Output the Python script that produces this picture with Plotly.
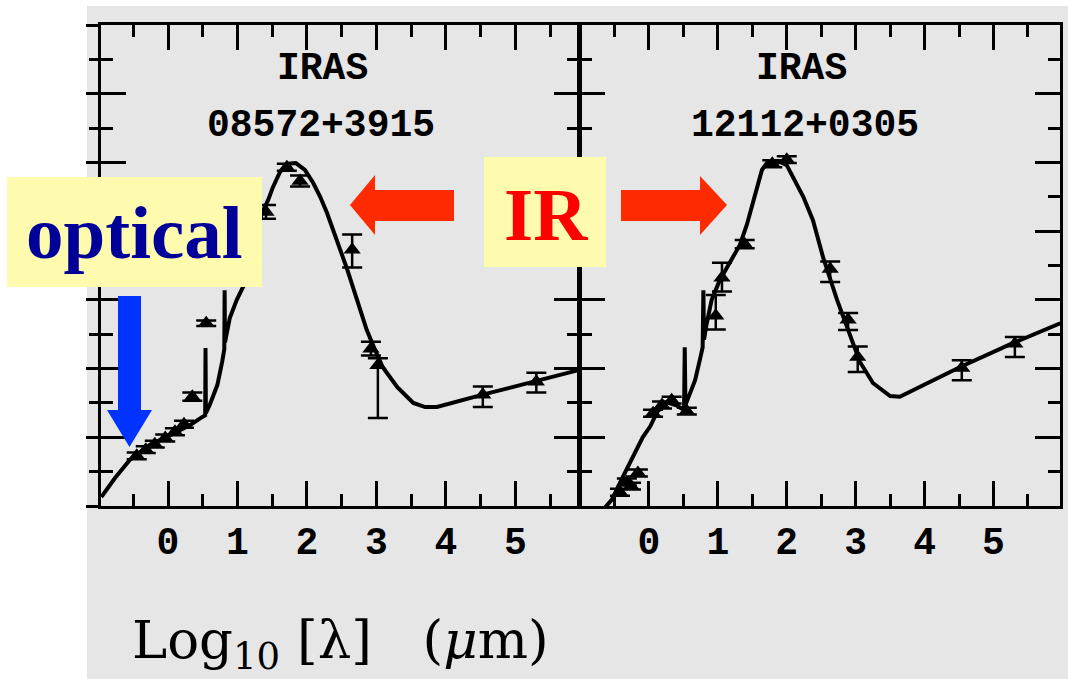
import plotly.graph_objects as go

W, H = 1068, 679

# ---- IRAS 08572+3915 : model SED and photometry (log10 lambda [um], log flux) ----
A_MODEL_X = [-0.96, -0.76, -0.55, -0.26, 0.03, 0.32, 0.50, 0.535, 0.54, 0.545, 0.60, 0.71,
             0.78, 0.81, 0.815, 0.82, 0.89, 0.99, 1.11, 1.22, 1.35, 1.44, 1.51, 1.61, 1.73,
             1.84, 1.97, 2.09, 2.19, 2.29, 2.43, 2.58, 2.72, 2.86, 2.98, 3.09, 3.30, 3.53,
             3.70, 3.87, 4.53, 5.25, 5.92]
A_MODEL_Y = [0.13, 0.41, 0.67, 0.89, 1.03, 1.18, 1.30, 1.32, 2.30, 1.35, 1.47, 1.76,
             2.10, 2.28, 3.14, 2.38, 2.74, 3.00, 3.25, 3.73, 4.26, 4.45, 4.64, 4.86, 4.98,
             4.99, 4.89, 4.70, 4.50, 4.26, 3.87, 3.44, 3.00, 2.56, 2.27, 2.02, 1.73, 1.50,
             1.44, 1.44, 1.62, 1.81, 1.98]
A_PHOT_X = [-0.45, -0.32, -0.19, -0.04, 0.10, 0.23, 0.35, 0.55, 1.41, 1.71, 1.90, 2.65,
            2.92, 3.02, 4.53, 5.30]
A_PHOT_Y = [0.73, 0.82, 0.90, 0.99, 1.08, 1.19, 1.59, 2.66, 4.28, 4.93, 4.73, 3.73,
            2.29, 2.05, 1.62, 1.81]
A_ERR_UP = [0.05, 0.05, 0.05, 0.05, 0.05, 0.05, 0.06, 0.04, 0.10, 0.05, 0.08, 0.22,
            0.10, 0.10, 0.12, 0.13]
A_ERR_DN = [0.05, 0.05, 0.05, 0.05, 0.05, 0.05, 0.06, 0.04, 0.10, 0.05, 0.08, 0.26,
            0.10, 0.77, 0.18, 0.16]

# ---- IRAS 12112+0305 ----
B_MODEL_X = [-0.67, -0.54, -0.38, -0.23, -0.09, 0.02, 0.12, 0.26, 0.41, 0.49, 0.51, 0.52,
             0.53, 0.60, 0.67, 0.74, 0.78, 0.79, 0.80, 0.83, 0.91, 1.03, 1.18, 1.32, 1.42,
             1.50, 1.57, 1.64, 1.71, 1.90, 2.00, 2.09, 2.24, 2.38, 2.53, 2.73, 2.87, 3.06,
             3.25, 3.50, 3.64, 3.98, 4.51, 5.28, 5.97]
B_MODEL_Y = [-0.06, 0.09, 0.42, 0.71, 1.00, 1.16, 1.37, 1.51, 1.46, 1.41, 1.43, 2.31,
             1.47, 1.65, 1.83, 2.13, 2.31, 3.14, 2.42, 2.61, 3.00, 3.29, 3.54, 3.80, 4.09,
             4.38, 4.67, 4.89, 4.99, 5.01, 4.96, 4.79, 4.50, 4.16, 3.61, 3.00, 2.61, 2.10,
             1.79, 1.60, 1.59, 1.76, 2.02, 2.37, 2.66]
B_PHOT_X = [-0.42, -0.32, -0.26, -0.16, 0.06, 0.19, 0.33, 0.55, 0.97, 1.06, 1.39, 1.79,
            2.00, 2.63, 2.89, 3.03, 4.54, 5.31]
B_PHOT_Y = [0.20, 0.35, 0.29, 0.48, 1.35, 1.47, 1.54, 1.38, 2.77, 3.32, 3.81, 4.98,
            5.04, 3.45, 2.71, 2.17, 2.01, 2.36]
B_ERR_UP = [0.05, 0.05, 0.05, 0.05, 0.05, 0.05, 0.05, 0.05, 0.30, 0.22, 0.06, 0.05,
            0.05, 0.11, 0.10, 0.15, 0.11, 0.10]
B_ERR_DN = [0.05, 0.05, 0.05, 0.05, 0.05, 0.05, 0.05, 0.05, 0.20, 0.20, 0.06, 0.05,
            0.05, 0.19, 0.15, 0.22, 0.18, 0.19]

X_TICKS = [0, 1, 2, 3, 4, 5]
X_TICK_TEXT = ["0", "1", "2", "3", "4", "5"]
TITLES = [("IRAS", "08572+3915"), ("IRAS", "12112+0305")]
X_LABEL = "Log<sub>10</sub>&nbsp;[λ]&nbsp;&nbsp; (<i>μ</i>m)"


def px(x):
    return x / W


def py(y):
    return 1 - y / H


MONO = dict(family="Liberation Mono", size=38, color="black", weight="bold")
Y_DOM = [py(506), py(25)]

fig = go.Figure()

for xa, ya, mx, my, dx, dy, eu, ed in [
    ("x", "y", A_MODEL_X, A_MODEL_Y, A_PHOT_X, A_PHOT_Y, A_ERR_UP, A_ERR_DN),
    ("x2", "y2", B_MODEL_X, B_MODEL_Y, B_PHOT_X, B_PHOT_Y, B_ERR_UP, B_ERR_DN),
]:
    fig.add_trace(go.Scatter(x=mx, y=my, mode="lines", xaxis=xa, yaxis=ya,
                             line=dict(color="black", width=4), showlegend=False,
                             hoverinfo="skip"))
    fig.add_trace(go.Scatter(x=dx, y=dy, mode="markers", xaxis=xa, yaxis=ya,
                             marker=dict(symbol="triangle-up", size=15, color="black"),
                             error_y=dict(type="data", symmetric=False, array=eu,
                                          arrayminus=ed, color="black", thickness=2.5,
                                          width=10),
                             showlegend=False, hoverinfo="skip"))

# carrier for the outward tick marks on the left frame
fig.add_trace(go.Scatter(x=[None], y=[None], xaxis="x", yaxis="y3", showlegend=False,
                         hoverinfo="skip"))

common_x = dict(showline=True, linecolor="black", linewidth=2.5, mirror="ticks",
                ticks="inside", ticklen=25, tickwidth=2.5, tickcolor="black",
                tickmode="array", tickvals=X_TICKS, ticktext=X_TICK_TEXT,
                tickfont=MONO, ticklabelstandoff=0, showgrid=False, zeroline=False,
                minor=dict(ticks="inside", ticklen=12, tickwidth=2.5, tickcolor="black",
                           dtick=0.5, tick0=0, showgrid=False))
common_y = dict(showline=True, linecolor="black", linewidth=2.5, mirror="ticks",
                ticks="inside", ticklen=25, tickwidth=2.5, tickcolor="black",
                dtick=1, tick0=0, showticklabels=False, showgrid=False, zeroline=False,
                range=[0, 7], domain=Y_DOM,
                minor=dict(ticks="inside", ticklen=12, tickwidth=2.5, tickcolor="black",
                           dtick=0.5, tick0=0, showgrid=False))

fig.update_layout(
    width=W, height=H, margin=dict(l=0, r=0, t=0, b=0),
    paper_bgcolor="white", plot_bgcolor="rgba(0,0,0,0)",
    xaxis=dict(common_x, domain=[px(101), px(579)], range=[-0.964, 5.914], anchor="y"),
    yaxis=dict(common_y, anchor="x"),
    xaxis2=dict(common_x, domain=[px(580), px(1060)], range=[-1.0, 5.965], anchor="y2"),
    yaxis2=dict(common_y, anchor="x2"),
    yaxis3=dict(overlaying="y", side="left", anchor="x", range=[0, 7], showline=False,
                ticks="outside", ticklen=14, tickwidth=2.5, tickcolor="black", dtick=1,
                tick0=0, showticklabels=False, showgrid=False, zeroline=False,
                minor=dict(ticks="outside", ticklen=11, tickwidth=2.5, tickcolor="black",
                           dtick=0.5, tick0=0, showgrid=False)),
)

shapes = [
    # grey page behind the plots
    dict(type="rect", xref="paper", yref="paper", x0=px(87), x1=1, y0=0, y1=py(6),
         fillcolor="#E6E6E6", line=dict(width=0), layer="below"),
    # callout boxes
    dict(type="rect", xref="paper", yref="paper", x0=px(7), x1=px(262), y0=py(287),
         y1=py(177), fillcolor="#FFFBAE", line=dict(width=0), layer="above"),
    dict(type="rect", xref="paper", yref="paper", x0=px(484), x1=px(606), y0=py(267),
         y1=py(157), fillcolor="#FFFBAE", line=dict(width=0), layer="above"),
]


def poly(points, color):
    path = "M " + " L ".join(f"{px(a):.5f},{py(b):.5f}" for a, b in points) + " Z"
    return dict(type="path", xref="paper", yref="paper", path=path, fillcolor=color,
                line=dict(width=0), layer="above")


# downward blue arrow (optical)
shapes.append(poly([(118, 296), (141, 296), (141, 410), (152, 410), (129.5, 447),
                    (107, 410), (118, 410)], "#0033FF"))
# red arrows pointing to each panel (IR)
shapes.append(poly([(454, 190), (454, 221), (375, 221), (375, 235), (350, 205),
                    (375, 175), (375, 190)], "#FF2B00"))
shapes.append(poly([(621, 190), (700, 190), (700, 176), (727, 205), (700, 235),
                    (700, 221), (621, 221)], "#FF2B00"))
fig.update_layout(shapes=shapes)

ann = []
for (t1, t2), cx1, cx2 in [(TITLES[0], 322, 321), (TITLES[1], 801, 805)]:
    ann.append(dict(text=t1, x=px(cx1), y=py(69), xref="paper", yref="paper",
                    showarrow=False, font=MONO, xanchor="center", yanchor="middle"))
    ann.append(dict(text=t2, x=px(cx2), y=py(125), xref="paper", yref="paper",
                    showarrow=False, font=MONO, xanchor="center", yanchor="middle"))
ann.append(dict(text="optical", x=px(134), y=py(232), xref="paper", yref="paper",
                showarrow=False, xanchor="center", yanchor="middle",
                font=dict(family="Liberation Serif", size=75, color="#000099",
                          weight="bold")))
ann.append(dict(text="IR", x=px(546), y=py(214), xref="paper", yref="paper",
                showarrow=False, xanchor="center", yanchor="middle",
                font=dict(family="Liberation Serif", size=75, color="#FF0000",
                          weight="bold")))
ann.append(dict(text=X_LABEL, x=px(130), y=py(643), xref="paper", yref="paper",
                showarrow=False, xanchor="left", yanchor="middle",
                font=dict(family="DejaVu Serif", size=53, color="black")))
fig.update_layout(annotations=ann)

fig.write_html("out.html")
